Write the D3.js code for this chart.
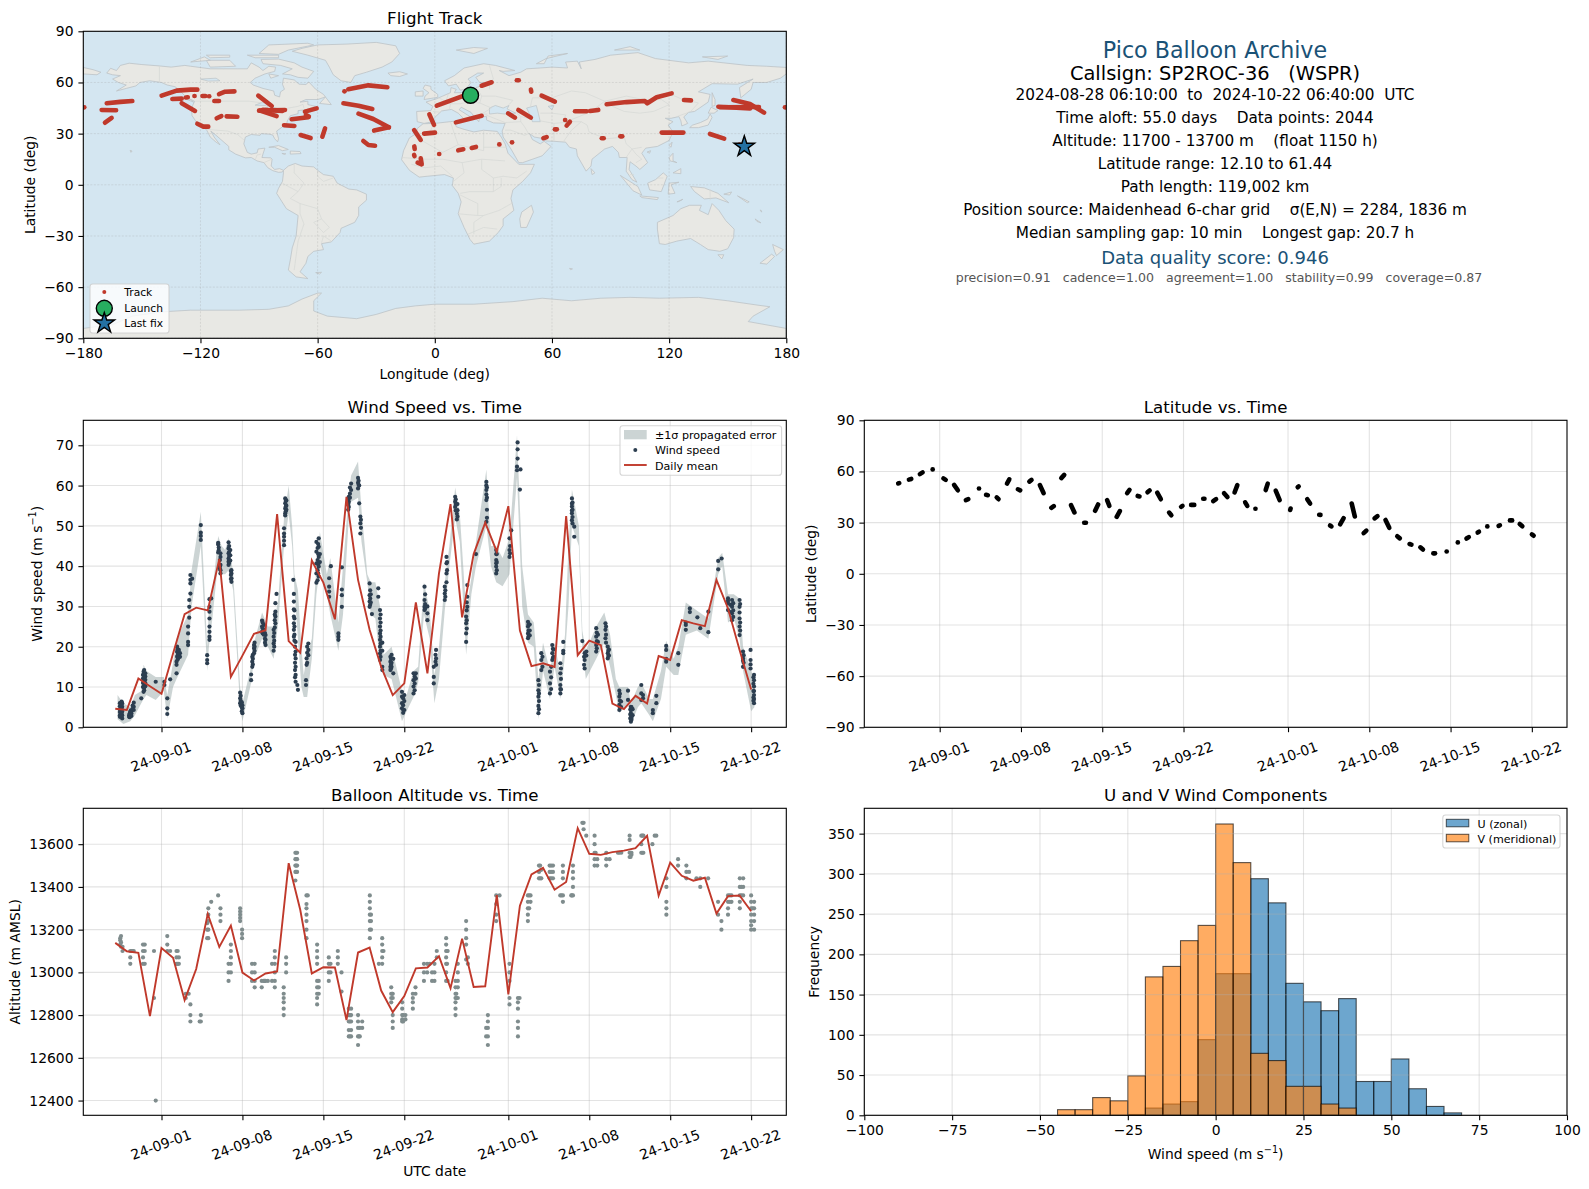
<!DOCTYPE html>
<html>
<head>
<meta charset="utf-8">
<script src="https://d3js.org/d3.v7.min.js"></script>
<style>
  html, body { margin: 0; padding: 0; background: #fff; }
  svg { display: block; font-family: "DejaVu Sans", sans-serif; }
  text { white-space: pre; }
</style>
</head>
<body>
<script>
// ---------- data ----------
// t = days since 2024-08-28 00:00 UTC

var lonTicks = [-180, -120, -60, 0, 60, 120, 180];
var latTicks = [-90, -60, -30, 0, 30, 60, 90];
var launchPos = [18.3, 52.5];
var lastFixPos = [158.5, 22.4];

// reported track, as runs of fixes [lon, lat]
var trackRuns = [
  [[-180,45.4],[-179.5,45.4]], [[179.3,45.4],[180,45.4]],
  [[-168,47.8],[-161,48.6],[-154.9,49.1]], [[-170.6,43.9],[-163.2,43.7]], [[-168.9,36.4],[-165.5,39.2]],
  [[-139.9,52.3],[-132.2,55.2],[-125,55.8],[-121.6,55.8]], [[-134.4,50.3],[-129.6,50.5]], [[-127.5,51.2],[-126.5,51.3]],
  [[-123.1,52.1],[-123,52.1]], [[-119,52.1],[-117.5,52.1]], [[-115.6,51.9],[-115.5,51.9]],
  [[-129.6,47.8],[-122.8,43.3]], [[-121.6,35.8],[-118.5,34.1],[-116,34.1]], [[-112.9,49.1],[-110.5,49.1]],
  [[-110.5,53.2],[-107.4,54.6],[-102.6,54.8]], [[-111.7,39],[-109.3,40.3]], [[-106.6,40.1],[-101.1,39.9]],
  [[-90.4,52.3],[-83.5,46.2]], [[-90,43.5],[-76.7,43.9]], [[-89.5,43.5],[-81,40.3]], [[-88,44],[-78,43.3]],
  [[-77.2,34.9],[-71.9,34.5]], [[-73.3,38.4],[-64.8,39.6]], [[-66.5,42.9],[-60.5,44.8]], [[-66,41],[-64.5,40]],
  [[-68.7,29.2],[-63.6,27.4]], [[-56.2,33.1],[-57.6,28.2]], [[-46.3,54.8],[-46.2,54.8]],
  [[-44.3,56],[-34,58.3],[-24.3,57.2]], [[-46.8,47.8],[-39.1,46.4],[-32,44.5]],
  [[-39.1,41.7],[-31.5,38.6],[-23.5,33.7]], [[-31.1,31.8],[-23.5,33.7]], [[-36.6,25.7],[-34,23.3],[-30.6,22.9]],
  [[-10.6,32.1],[-7.2,26.3]], [[-5.5,30],[0.1,30.6]], [[-2.8,41.3],[-0.4,35.1]], [[-10.5,22.5],[-10.3,21]],
  [[-10.6,17.5],[-10.4,16.8]], [[-7.2,15.5],[-6.7,12],[-8.8,13]], [[2.2,18.1],[2.3,18.1]],
  [[1,46.4],[14.6,52.1],[18.3,52.5]], [[24,58.1],[29.1,60.1]], [[42,61.3],[43,61.3]], [[49.2,55.8],[49.4,54.6]],
  [[54.7,52.3],[61.5,48.8]], [[10.8,36.6],[24,40.5]], [[37.6,41.9],[41,39.4]], [[42.8,43.9],[49.2,39.4]],
  [[12,20.2],[14.6,20.8]], [[18.9,21.6],[21.1,22.2]], [[33,23.7],[33.1,23.7]], [[39.5,24.9],[39.6,24.9]],
  [[55.6,27.3],[57.3,28]], [[61.5,32.5],[62.5,32.5]], [[66.7,38],[66.8,38]], [[67.5,34.7],[69.2,37]],
  [[71.8,43.1],[77.8,43.1]], [[79.5,43.3],[83.7,43.9]],
  [[88,47.2],[98.2,48.5],[107.6,49.1],[108.8,47.8],[113.6,51.3],[121.3,53.6]], [[127.6,49.7],[131.2,49.5]],
  [[85.5,27.3],[86.5,27.3]], [[95,28.4],[96,28.4]], [[116.2,30.6],[127.3,30.6]], [[140.9,29.8],[148.2,27.1]],
  [[145.2,45.8],[161.4,44.8]], [[152.9,49.7],[161.4,47.4],[168.6,42.3]], [[146,45.5],[166,45.6]], [[156,23.5],[158.5,22.4]]
];

// land, hand traced [lon, lat]
var landPolys = [
  [[-168,65.5],[-166,68.3],[-163,67],[-161,70],[-156.5,71.3],[-150,70.5],[-141,69.7],[-135,69],[-128,70],[-125,69.5],[-115,68],[-108,68],[-101,68],[-96,68],[-94,71.5],[-90,69],[-88,67],[-85,69.5],[-81.5,69],[-82,66.5],[-87,65],[-92,62.5],[-94.5,60],[-93,58.5],[-88,56.5],[-82.5,55],[-82,52.5],[-79.5,51.5],[-79,54.5],[-77,56],[-78,59],[-77.5,62.5],[-72,61.5],[-69.5,59],[-66,58.8],[-64.5,60.3],[-61,56],[-57,53],[-56,51.5],[-60,50],[-66,50],[-69,48.5],[-65,49],[-65,47],[-61,46],[-66,44],[-70,43.5],[-70,41.7],[-74,40.5],[-75.5,37.5],[-76,35],[-78,34],[-81,31.5],[-80,27],[-80.5,25.2],[-82,27],[-83,29.2],[-85,29.7],[-89,30],[-89.5,29],[-94,29.5],[-97,28],[-97.8,24],[-96,19],[-94,18],[-91,18.7],[-90.5,21],[-87,21.5],[-88,18],[-88.5,16],[-84,15.8],[-83.3,15],[-83.8,11],[-82,9],[-79.5,9.5],[-77.5,8.5],[-78,7.5],[-80,7.3],[-83,8.3],[-85.5,10],[-87.5,13],[-91,14],[-94,16],[-97,15.8],[-102,18],[-105.5,20.5],[-105.5,22.5],[-109,26],[-112.5,29.5],[-114.7,31.5],[-113,28],[-110,23.5],[-112,25],[-115,28],[-117,32.5],[-120.5,34.5],[-122.5,37.5],[-124.3,40.5],[-124.5,43],[-124,46.5],[-123,49],[-127,51],[-130,54.5],[-133,57.5],[-137,58.5],[-140,60],[-146,61],[-151,60],[-153,58],[-158,56.5],[-163,55],[-158,58.5],[-162,60],[-165,62],[-161,64],[-165,64.5]],
  [[-73,78.3],[-68,80],[-60,82],[-45,82.5],[-30,83.5],[-20,81.5],[-18,77],[-22,72],[-27,69],[-35,66],[-41,64],[-43,60],[-48,61],[-52,64.5],[-54,69],[-56,73],[-65,76]],
  [[-80,73.7],[-72,71.5],[-68,69],[-62,66.5],[-65,62.5],[-70,63],[-74,64.5],[-78,65],[-73,68],[-79,70],[-88,71],[-89,73.5]],
  [[-117,73],[-105,73],[-102,69.5],[-115,69]], [[-125,72],[-118,75],[-115,73]], [[-90,77],[-85,82],[-65,83],[-62,82],[-75,79],[-80,76.5]],
  [[-96,76],[-80,76],[-80,74.5],[-92,74.5]], [[-117,76],[-105,76],[-105,74.8],[-115,74.5]], [[-59,47.7],[-56,51.5],[-53,47]],
  [[-85,65],[-80,64],[-84,62.5]], [[-128,50.5],[-125,50],[-123.5,48.5]],
  [[-85,22],[-80,23],[-75,20.7],[-78,20],[-82,22]], [[-74,19.8],[-69,19.5],[-68.5,18.3],[-74,18]], [[-78.3,18.4],[-76.3,18.2],[-77,17.8]],
  [[-156,20.2],[-155,19.8],[-155.6,19]],
  [[-77.5,8.5],[-75,11],[-71.5,12.5],[-68,11],[-62,10.5],[-60,8.5],[-57,6],[-52,5],[-50,1],[-44,-2.5],[-40,-3],[-35,-5.5],[-35,-9],[-39,-13],[-39,-18],[-41,-22],[-48,-25.5],[-48.5,-28],[-53,-33.5],[-58,-34.5],[-57,-38],[-62,-39],[-65,-42],[-66,-46],[-69,-51],[-65,-55],[-71,-54],[-75,-50],[-74,-44],[-73,-37],[-71,-30],[-70,-18],[-76,-14],[-81,-5],[-80,-2],[-78,2],[-77.5,7]],
  [[-61,-51.5],[-58,-51.3],[-59,-52.3]],
  [[-6,35.8],[0,36],[10,37.3],[11,34],[15,32.5],[20,31],[25,32],[32,31.3],[34,28],[36,24],[37.5,18.5],[43,12],[51,12],[49,7],[45,2],[40,-3],[39,-8],[40.5,-15],[35,-20],[35,-24],[32.5,-28],[28,-33],[20,-34.8],[18,-32],[15,-25],[12,-17],[13.5,-10],[12,-5],[9,-0.5],[9.5,4],[5,6],[-4,5],[-8,4.5],[-13,8.5],[-17,14.7],[-16,20],[-13,27.5],[-9.5,30],[-9,33]],
  [[-5.5,36],[-9,37],[-9.3,43],[-2,43.5],[-1,46],[-4.5,48.5],[1,50.5],[4,52],[8,54],[8.3,57],[11,56],[10,54],[14,54],[19,54.5],[21,57],[24,58],[24,59.5],[30,60],[23,60],[21,63],[25,65.5],[22,65.5],[17,62],[18.5,60],[16,56],[13,55.5],[11,59],[7,58],[5,61],[10,64],[15,68.5],[25,71],[31,70],[41,67],[35,66.5],[33,67],[38,64],[44,66],[47,68],[54,68.5],[60,69],[68,68.5],[67,72],[73,72.5],[75,68],[74,72],[82,73.5],[90,76],[104,77.5],[113,74],[130,71.5],[140,72.5],[160,70],[170,69.5],[180,68.8],[180,65],[177,62.5],[170,60],[163,60],[162,56],[156.7,51],[156,57],[163,62],[155,59],[142,59.3],[135,54.5],[141,53],[140,48.5],[133,43],[130,42.5],[127.5,39.8],[129.5,36],[126.5,34.5],[126,37.5],[125,40],[121,39],[118,39],[122,37],[119.5,35],[122,31],[120,26],[114,22.5],[108,21.5],[106,18.5],[109,13],[105,9],[103,11],[100,13.5],[99.5,9],[103.5,1.5],[101,3],[98,8],[98.5,16],[94.5,16],[94,19],[91,22.5],[87,21],[80.5,15],[80,11],[77.5,8],[73,17],[72.5,21],[69,22],[67,25],[61,25.5],[57,25.7],[56,27],[51,28],[48.5,30],[50,26.5],[54,24],[56,25.5],[59.5,22.5],[55,17],[45,13],[43,13],[39,21],[35,28],[34.5,31.5],[36,36],[30,36.3],[26.5,38],[26.5,40],[23,40],[22.5,37],[19.5,41],[18.5,42.5],[13.5,45.5],[12.5,44],[18,40],[15.5,38],[12,42],[8.5,44.2],[3.5,43.3],[0,39.5],[-2,36.8]],
  [[-180,68.8],[-175,67.5],[-171,66],[-173,64.5],[-180,65]],
  [[-5.5,50],[1.5,51.3],[1.5,53],[-2,56],[-2,57.7],[-5,58.5],[-6,56.5],[-3,54],[-5,52]], [[-10,52],[-6,52],[-6,55],[-10,54.5]],
  [[-24,65.5],[-18,66.3],[-14,65],[-18,63.5],[-22.5,64]], [[11,79],[20,80.5],[27,80],[20,77]], [[52,71],[57,74],[68,77],[58,75.5],[56,71]],
  [[92,79],[105,79],[100,81]], [[137,75],[150,75.5],[145,73.5]], [[142,46],[142,54],[143.5,50],[143.5,46.5]],
  [[130.5,33.5],[135,33.5],[140,35],[142,39.5],[141,41.5],[139.7,38.5],[136,36.5],[132,35]], [[140,42],[141.5,45.5],[145,43.5],[143,42]],
  [[120,23],[121.5,25],[121,22]], [[108.7,19.2],[110.5,20],[110,18.5]], [[120,16],[122,18.5],[122,14],[124,13],[120.5,14]], [[122,7],[126,9.5],[126,6.5]],
  [[109,1],[113,3],[117,7],[119,5],[117.5,0.5],[116,-4],[110,-3]], [[95,5.5],[104,-1],[106,-6],[101.5,-3.5]], [[105,-6.5],[114.5,-7.5],[114,-8.7],[106,-7.5]],
  [[119.5,-5.5],[120,1],[125,1.5],[121,0],[123,-5]], [[131,-1],[138,-1.8],[145,-5],[150.5,-10.5],[144,-7.7],[138,-8.3],[133,-4]], [[124,-10],[127,-8.5],[125,-9.8]],
  [[148,-5.5],[152,-4.2],[151,-6]], [[155,-6.5],[161,-10],[160,-10.5]], [[166.5,-15],[167.5,-16],[167,-14.8]], [[164,-20],[167,-22.3],[165,-21.5]],
  [[114,-22],[122,-18],[126,-14],[130.5,-12],[136.5,-12],[135.5,-15],[140,-17.5],[142,-11],[145.5,-15],[149,-21],[153.3,-26],[153,-31],[150,-37.5],[146,-39],[140,-38],[136,-35],[131,-31.5],[124,-33],[118,-35],[115,-34.5],[114,-26]],
  [[145,-41],[148,-41],[147,-43.5]], [[173,-35],[178.5,-38],[175,-41.5],[174,-39]], [[172.5,-40.7],[174,-42],[170,-46.5],[166.5,-46]],
  [[49.5,-12],[50.5,-16],[47,-25],[44,-25],[43.5,-20],[44.5,-16]], [[80,9.5],[82,7],[80.5,6]], [[69,-49],[70.5,-49.3],[69.5,-49.8]],
  [[-180,-90],[-180,-84.2],[-165,-82],[-155,-77],[-140,-74.5],[-125,-73.5],[-100,-73.5],[-85,-73],[-75,-71],[-68,-67],[-60,-63.5],[-58,-63.5],[-62,-68],[-62,-74],[-55,-77],[-40,-78.5],[-30,-76],[-20,-72.5],[-10,-71],[0,-70],[20,-70],[40,-68.5],[55,-66.5],[70,-68],[85,-66.5],[100,-66],[115,-66.5],[135,-66],[150,-68],[165,-70.5],[171.6,-71.5],[163,-77],[160.5,-80.2],[180,-84.2],[180,-90]]
];
var waterPolys = [
  [[28,41.5],[28,45],[31,46.5],[35,45],[38,46.5],[37,44.5],[41.5,42],[36,41.5],[32,42]],
  [[47,45],[52,46.5],[53,42],[54,37],[50,37],[49,40.5]],
  [[-92,46.7],[-88,48.5],[-85,47],[-87,46.5]], [[-87.5,41.8],[-85.5,45.8],[-87,45]], [[-84,46],[-80,44.5],[-82,43],[-83.5,44]], [[-83,41.5],[-79,42.9],[-79,42.5]], [[-79.5,43.3],[-76.5,44],[-76.5,43.4]],
  [[58,46],[61,46.5],[60,44]], [[-120,62],[-112,62.5],[-110,61],[-116,60.8]]
];
var borderLines = [
  [[-141,69.7],[-141,60]], [[-123,49],[-95,49],[-88,48],[-83,46],[-82.5,42],[-79,43],[-75,45],[-70,46],[-67.5,47.2],[-67,45]],
  [[-117,32.5],[-106,31.5],[-101,29.5],[-97.5,26]], [[-92,14.5],[-91,17.5],[-89,18]], [[-87.5,13],[-83.5,15]],
  [[-72,12],[-72,7],[-67,1],[-70,-4],[-74,-8],[-69,-11],[-69,-17],[-67,-23],[-70,-33],[-72,-50]], [[-78,1],[-75,-1],[-70,-4]], [[-60,8],[-60,5],[-57,2],[-52,4]],
  [[-58,-20],[-62,-22],[-57,-28],[-54,-25],[-58,-20]], [[-58,-34],[-57,-30],[-53,-33]], [[-69,-11],[-60,-14],[-58,-20]],
  [[-9,27.5],[-2,32],[-1,35]], [[-9,27.5],[4,19],[12,23.5],[10,30],[8,37]], [[12,23.5],[25,20],[25,32]], [[25,22],[37,22]], [[24,15],[24,9],[30,4],[35,5],[42,4],[47,8]],
  [[-17,16],[-5,15],[4,15],[14,13],[24,15],[36,14]], [[-12,12],[-5,10],[3,11],[9,5]], [[14,13],[15,7],[9.5,2]], [[13,-5],[18,-4],[30,-4],[30,4]], [[12,-17],[22,-18],[25,-18],[33,-15],[40,-10.5]],
  [[22,-18],[22,-11],[13,-6]], [[20,-29],[20,-22],[25,-18]], [[17,-29],[25,-25],[32,-26]], [[30,-4],[34,-1],[34,4]], [[-1,43],[3,42.5]], [[2,51],[8,47.5],[7.5,44]], [[7,53.5],[6,50],[8,47.5],[13,47.5],[17,48.5],[23,48],[24,52],[23,54]],
  [[14,54],[15,51],[17,48.5]], [[23,48],[29,45],[24,41.5],[27,41.5]], [[24,52],[31,52],[40,49.5],[38,47]], [[28,56],[28,60]], [[28,70],[30,62],[28,60]], [[26,41],[36,36.5],[44,37],[44,40],[42,42]],
  [[36,32],[39,32],[46,29],[48,30]], [[44,37],[46,34],[48,30]], [[44,40],[48,39]], [[61,25.5],[61,31],[61,36],[54,37.5]], [[61,36],[71,37],[75,37],[70,32],[66,25.5]], [[75,37],[78,35],[79,31],[81,30],[88,27],[97,28],[98,24],[101,21],[106,22]],
  [[49,46],[50,51],[60,51],[70,55],[77,54],[87,49],[80,43],[74,40],[67,37]], [[87,49],[98,52],[107,50],[116,50],[120,47],[112,43],[105,42],[97,43],[91,46],[87,49]], [[120,53.5],[127,50],[135,48],[131,43]], [[54,42],[60,42],[67,41],[66,37.5]], [[98,16],[101,21]], [[101,21],[103,18],[106,15],[103,13]], [[124,40],[130,42.5]], [[100,6],[102,6]], [[141,-2.5],[141,-9]], [[114,4],[117,4]]
];

var windDaily = [4.6,4.3,12.1,10.2,8.3,18.3,28.1,29.7,29,41.8,12.5,17.8,23.2,24.1,52.9,21.4,18.5,41.4,35.9,26.8,57.2,36.6,24.2,15,8,10.9,31,13.4,
  38.2,55.4,27.3,43,50.8,43.6,54.9,24,15.2,15.9,15,52.4,17.9,21.5,20.4,5.9,4.5,7.8,5.9,17.7,16.7,26.6,25.8,25.1,36.6,29.5,19.2,9.4];
var altDaily = [13138,13099,13091,12795,13114,13068,12870,13016,13273,13119,13219,12999,12962,12995,13004,13511,13293,12995,13024,13023,12777,13093,13116,12915,12814,12889,13019,13023,
  13076,12926,13158,12932,12935,13362,12897,13312,13458,13489,13387,13423,13675,13555,13550,13563,13570,13581,13639,13359,13514,13452,13429,13443,13275,13357,13360,13286];

// wind speed readings grouped by time: [t, [values]]
var windCols = [
  [.4,[6,5.2,4.4,3.8,3,2.6]],[.5,[5.6,4.8,3.4]],[.6,[6,5.1,3.9,3,2.2]],[1.2,[3,2.6]],[1.3,[3,3.6,3.9]],[1.4,[2.8,3.4,4]],[1.6,[6.1,5.1,4.3]],[2.25,[7.2]],
  [2.4,[13,12.1,11,10]],[2.45,[13.8,13,12.1,11.3,10.1,8.8]],[2.6,[13.4,12.6,11.8,11,10.2]],[3.5,[11.3]],[4.25,[11.3,10.5]],[4.5,[7.2,4.7,3.3]],[4.75,[11.9]],
  [5.3,[13.4,15.5,16.3]],[5.35,[17.5,18.8,20]],[5.5,[18.4,19.2]],[5.6,[17.5,18.4]],[6.3,[20.4,21.2,23.3,25]],[6.4,[27.2,29.9,31.6]],[6.5,[33.2,35.7,36.6,37.8]],[6.65,[36.9]],
  [7.4,[50.2,48.3,47.5,46.5]],[7.95,[15.9,16.7,17.9]],[8.15,[21.7,22.5,23.7,25,27,28.7,29.9,31.8]],[8.3,[32]],
  [8.9,[45.8,45.4,43.4]],[9.1,[43.2,42.3,40.3,39,38.2]],[9.8,[45.9,44.4,43.2,41.9,41.1,40.3]],[9.95,[44,42.7,41.4]],[10.05,[39,38.2,37,36.1]],
  [10.8,[8.6,7.2,6]],[11,[4.7,3.5,5.5]],[11.75,[11.7,13.1]],[11.85,[15,16.3,17.5]],[12,[18.4,19.6,20.4]],[12.7,[26.5,25,23.7]],[12.85,[25.4,24.2,23]],[13,[22.9,21.7,20.4]],
  [13.7,[19,20.8,22.5,24.2]],[13.85,[25.8,27.5,28.7,30.8]],[13.95,[33.1]],[14.6,[45.2,47.3,49.4,48.1,46.3]],[14.7,[53.1,54.3,55.6,56.8,52.6]],[14.8,[54,55,56.3]],
  [15.4,[36.6]],[15.45,[33.1,31.2,29.3,27.5,25.8,24.2,22.5]],[15.6,[21.2,18.8,17.1,15,13,11.3]],[15.75,[10.5]],[15.8,[9.3]],[16.5,[11.7,10.5]],[16.55,[15.5,17.1]],[16.7,[20.8,19.2,17.9]],
  [17.4,[35.9,38.2,40.7,43.6,46]],[17.6,[46.9,44.8,42.3,39.9,37.4]],[17.7,[41,43]],[18.5,[32.4,33.7,34.9,37]],[18.65,[40]],[19.3,[23.3,21.7,22.5]],[19.6,[29.9,32.8,34.2,39.7]],
  [20.2,[54.7,56,57.2]],[20.4,[60.5,58.9]],[21,[61.9,60.7,59.3]],[21.1,[55.6,60]],[21.2,[52.3,50.6,48.1]],[22,[29.9,31.2,32.8,35.7]],[22.1,[33,31]],[22.2,[28.1]],
  [22.75,[34.5,32.4]],[22.9,[29.1,27,25,23.3,21.7,20,18.3,16.7]],[23.1,[15,14.2,19,21]],[23.8,[17.5,16.3,15,14.2]],[23.9,[18,16,15]],[24.05,[13.4,17]],
  [24.8,[8.8,7.6,6,4.7]],[25,[4.3,6.5,8]],[25.8,[13.4,11.7,10.1,8.4]],[26,[13.4,12.1]],[26.75,[34.9,31.6,29.9,29.1]],[27,[28.3,26.6,30]],
  [27.55,[15,12.5,10.9]],[27.75,[19.2,17.1,15.5]],[28.5,[31.6,33.2,34.9]],[28.65,[40.7,42.3,38.2,36]],[29.4,[57.2,56,54.7]],[29.6,[53.9,52.3,55.4]],
  [30.35,[21.2,23.3,25.8,27.5]],[30.45,[29.9,32.4,35.3]],[31.2,[43]],[32.1,[60.9,58.9,56.4,51,60,57.8]],[32.95,[38.2,39.9,41.5,44,40.7,43]],[34.1,[42.3,44,46.9]],[34.25,[48.9]],
  [34.75,[64.7,63.8]],[34.8,[70.7,69,66.7]],[35,[59]],[35.05,[64]],[35.7,[26.2,25,23.3,22.1]],[35.85,[25.5,24,22.8]],[36.6,[3.5,5.3,7.6,9.2,11.7]],[36.85,[14.2,16.7,18.4]],
  [37.6,[8.4,10.9,13.8]],[37.8,[16.7,18.4,20.4]],[37.9,[17.5,19.3]],[38.5,[8.4,10.5,13.4,15.9,9.5]],[38.75,[18.4,21.2,19]],[39.5,[56.8,54.8,53.1,51.4,55.5,53.8]],[39.7,[49.8,47.3]],
  [40.4,[21.4]],[40.6,[18.4,16.7,14.6]],[40.75,[17.8,18.8]],[41.6,[24.6,22.5,20.4,18.8]],[41.75,[23,21.2]],[42.4,[25.8,24.2,22.1]],[42.6,[20,18.4,17.1]],[42.7,[19.3,17.8]],
  [43.6,[9.1,7.6,5.6,4.3]],[43.75,[5,6.4]],[44.35,[9.1,6.8]],[44.6,[5.1,3.5,1.4,4.3,2.5]],[44.75,[4.5,3]],[45.5,[10.5,8.4,6.8]],[45.65,[8,7.2]],[46.5,[4.3,3.5]],[46.8,[7.8,6]],
  [47.65,[20.2,19.2,16.3,17]],[48.7,[18.4,15.5]],[49.35,[25.4,24.2,26]],[49.7,[29.5,28.6]],[50.35,[27.3]],[50.6,[24.6]],[51.3,[28.7,23.6]],
  [52.15,[39.2,41.3]],[52.45,[41.9]],[53,[32,30.8,29.1,31.4]],[53.35,[31.6,29.9,28.3,26.6,30.5]],[54,[31.6,29.9,27,25,22.9,28.5]],[54.3,[18.8,17.1,15,16.5]],[54.95,[19.2,16.7,14.6,15.6]],[55.25,[13,11.7,10.1,8,6,9,7]],
  // denser parts of the clusters
  [.55,[6.4,5.6,4.6,3.6,2.8]],[1.25,[3.4,3,2.5]],[1.35,[4.2,3.6,3.2]],[1.5,[4.6,5.4]],[2.5,[14.2,13.2,12.4,11.6,10.8,9.8,9.2]],[5.4,[16.8,17.8,18.6,19.4]],[5.45,[17.2,18.2,19]],[8.95,[44.6,43.9]],[9.05,[41.5,40,39.4]],
  [9.85,[45,43.5,42.5,40.8]],[10,[38.8,37.8,36.8]],[10.85,[7.8,6.6,5.4]],[10.95,[6.2,5,4]],[11.9,[15.6,17,18]],[12.05,[19,20,21]],[12.75,[26,24.6,23.3]],[12.95,[23.4,22,21]],[13.75,[20,21.5,23.4]],[13.8,[24.8,26.6,28]],
  [14.75,[53.6,54.8,56.2]],[15.5,[29,27,25,23,21.5]],[15.55,[20,18,16,14.2,12.4]],[16.6,[16,18.5,20]],[17.5,[36.5,39,41.5,44.5]],[17.55,[45.5,43,40.5,38.2]],[20.15,[54,55.5,56.6]],[20.3,[57,58,59.5]],[21.05,[60.2,61.2]],[21.25,[51.5,49.5]],
  [22.05,[30.4,32,34]],[22.95,[28,26,24,22.5,20.8,19,17.5]],[23.85,[17,15.6,14.6]],[24.9,[7.2,5.5,4.4,3.6]],[25.9,[12.6,10.9,9.2]],[26.8,[33,30.6,29.4]],[27.7,[18,16.3]],[28.55,[32.4,34]],[28.7,[39,41]],[29.45,[56.6,55.4,53.8]],[29.55,[53,51.6]],
  [30.4,[24.5,26.6,29,31]],[32.15,[59.5,57,54,52]],[33,[39,41,43]],[34.15,[43.2,45]],[35.75,[25.6,24,22.6]],[36.65,[4.5,6.5,8.4,10.5]],[36.95,[15,17.5]],[37.7,[9.5,12.4,15]],[37.85,[17.2,19.5]],[38.55,[9.4,12,14.6]],[39.55,[55.8,54,52.2,50.6]],
  [40.55,[17.5,15.5]],[41.65,[23.5,21.4,19.6]],[42.45,[25,23,21]],[42.65,[19,17.7]],[43.65,[8.3,6.6,5]],[44.55,[4.4,2.2,3.2]],[44.65,[5,2.4,1.9]],[53.2,[30.4,28.6]],[53.45,[30.8,29,27.4]],[54.05,[30.6,26,24]],[54.35,[17.9,16]],[55.2,[12.4,10.8,9,7.4,6.6]]
];

// ±1 sigma band along the series: t, low, high
var bandT = [.2,.7,1.3,1.7,2.25,2.45,2.7,3.5,4.2,4.5,5,5.3,6.3,6.6,7.4,7.95,8.1,8.4,8.9,9.2,9.5,9.8,10.2,10.8,11,11.75,12,12.7,13.2,13.7,14.1,14.6,15,15.3,15.5,15.8,16.1,16.3,16.6,17,17.4,17.7,18.3,18.6,19.3,19.7,20.2,20.4,21,21.3,21.8,22.1,22.5,22.9,23.2,23.9,24.8,25.2,25.8,26.2,26.7,27.2,27.6,28,28.5,28.9,29.4,29.8,30.35,30.8,31.2,32.1,32.5,32.95,33.5,34.1,34.75,35.2,35.7,36.2,36.6,37,37.6,38,38.5,38.9,39.2,39.5,40.1,40.4,40.7,41.6,42.3,42.8,43.3,43.6,44.35,44.6,45.2,45.5,46.2,46.5,47.2,47.65,48.3,48.7,49.35,50.3,51.3,52.15,52.5,53,53.5,54,54.3,55,55.28];
var bandLow = [2,.8,1.5,3,6,7,8,6.8,9,2.2,10,12,18,30,45,14,20,27,41,38,38,39,34,5,1.5,11,17,22,20,17,26,45,53,45,34,22,10,7.5,7.5,17,33,40,33,28,19,28,52,56,57,46,36,28,27,16,13,12,1.5,4,7.5,11,28,22,6,12,29,40,52,46,18,33,40,50,40,36,35,38,62,30,21,20,2,14,7,15,7,18,30,50,45,20,12,17,21,15,8,3.5,6,.7,5,6,3,1.5,7,15,13,13,23,24,22,38,40,26,27,22,14,4,5];
var bandHigh = [8,6,5,8,9,15.5,14,12.5,12.5,8,16,22,28,39,53.5,20,30,33,47.5,45,44,47,38,10,6,15,21,28.5,25,25,32,52,60,50,38,34,20,13,18,22,40,48.5,38,42,26,40,58,62.5,66,54,38,36,36,30,18,20,9,8,14,15,36,29,13,20,36,45,59.5,53,29,37,46,64,45,45,42,47,72.5,40,28,26,12,21,14,21,13,23,45,59,50,24,19,25,28.5,23,12,10,10,6,10,11,7,7,14,21.5,17,20,31,29,27,42,43.3,33,33,32,20,14,12];

// latitude vs time: runs of [t, lat]
var latRuns = [
  [[.28,52.6],[.66,53.6]],[[1.2,54.9],[1.7,55.9]],[[2.16,57.9],[2.66,60]],[[3.39,61.2],[3.4,61.2]],[[4.19,56.5],[4.65,54.5]],[[5.15,53],[5.65,48.1]],[[6.11,42.8],[6.61,44.2]],
  [[7.38,50],[7.39,50]],[[7.84,46.5],[8.3,45.9]],[[8.8,45.5],[9.18,43]],[[9.72,52],[10.07,56.3]],[[10.6,50],[11.07,48.5]],[[11.6,53.4],[12.03,55.7]],[[12.56,53],[13.02,46.3]],
  [[13.49,38.1],[13.95,40.3]],[[14.37,55.3],[14.83,58.8]],[[15.25,41.2],[15.67,35]],[[16.29,29.9],[16.75,29.9]],[[17.32,36],[17.71,41.6]],[[18.36,44.2],[18.67,38.9]],
  [[19.17,32.5],[19.59,37.7]],[[20.05,46.5],[20.44,50]],[[20.9,45.9],[21.36,45.1]],[[21.78,47.1],[22.2,49.6]],[[22.66,48.5],[23.12,42.8]],[[23.66,36.7],[24.05,33.5]],
  [[24.66,38.7],[25.04,40.4]],[[25.5,40.4],[26.08,40.4]],[[26.54,44],[26.96,44]],[[27.43,42],[27.93,44.4]],[[28.39,48.1],[28.88,44.2]],[[29.34,46.7],[29.69,53]],
  [[30.23,42.8],[30.57,38.9]],[[31.19,38.1],[31.2,38.1]],[[32.03,48.1],[32.3,53.9]],[[32.88,49.8],[33.34,42.2]],[[34.15,36.4],[34.26,39.3]],[[34.72,50],[35.03,52]],
  [[35.57,44.6],[35.99,40.3]],[[36.53,34.8],[36.95,34.4]],[[37.49,28.9],[37.87,27.2]],[[38.41,28.1],[38.87,33.5]],[[39.45,42.2],[39.79,32.6]],[[40.4,23.1],[40.86,26]],
  [[41.33,31.9],[41.83,34.4]],[[42.33,32.5],[42.79,26]],[[43.29,22.7],[43.75,20.1]],[[44.32,17.8],[44.78,16.8]],[[45.28,16.2],[45.74,13.5]],[[46.36,12],[46.82,12]],
  [[47.66,13.1],[47.67,13.1]],[[48.62,18.4],[48.63,18.4]],[[49.24,20.1],[49.7,22.1]],[[50.2,23.7],[50.58,25.2]],[[51.16,27.8],[51.17,27.8]],[[52,27.6],[52.39,28.9]],
  [[52.96,31.3],[53.46,31.3]],[[53.84,29.9],[54.3,27.2]],[[54.88,23.7],[55.28,21.7]]
];

// altitude readings grouped by time: [t, [metres]]
var altCols = [
  [.43,[13160,13150,13130]],[.5,[13170,13140,13120]],[.63,[13120,13100]],[1.3,[13100,13070,13040]],[1.4,[13100]],[1.6,[13100]],[2.4,[13130,13100,13070,13040]],[2.55,[13130,13100,13040]],
  [3.35,[13100,12880]],[3.5,[12400]],[4.5,[13170,13130,13100]],[4.75,[13100]],[5.3,[13100,13070,13040]],[5.5,[13070,13040]],[6.1,[12900,12880]],[6.35,[12900]],[6.5,[12850,12800,12770]],
  [7.3,[12770]],[7.4,[12800,12770]],[7.95,[13200,13160,13230]],[8.05,[13300,13270,13240,13200,13160]],[8.3,[13330]],[8.9,[13360]],[9.1,[13300,13270,13240]],[9.8,[12960,13000,13040]],[10,[13070,13100,13130,13040,13000]],
  [10.8,[13300,13285,13270,13255,13240]],[10.97,[13200,13180,13160]],[11.83,[13040,13000,12960]],[12.06,[13040,13000,12960,12930]],[12.67,[12930,12960]],[12.85,[12960]],[13,[12960]],[13.56,[13040,12960]],
  [13.8,[13100,13070,13040,13000,12960,12930]],[14.57,[12930,12900,12880,12860,12830,12800]],[14.78,[13070,13040,13000]],[15.58,[13560,13530,13500,13470,13430]],[15.73,[13560,13530,13500,13470]],
  [16.54,[13360,13320,13300,13270,13240,13200,13160]],[16.65,[13360]],[17.46,[13130,13100,13070,13040,12960,12930,12900,12880,12850]],[17.6,[12960,12930,12900]],[18.47,[13070,13040,13000,12960]],[18.62,[13040,13000]],
  [19.25,[13100,13070,13040]],[19.57,[13000,12910]],[20.2,[12830,12800,12770,12730,12700]],[20.4,[12830,12800,12770,12730,12700]],[21,[12800,12770,12740,12700,12660]],[21.15,[12740,12700]],[21.36,[12770,12740]],
  [22.02,[13360,13330,13300,13270,13240,13200,13160]],[22.12,[13270,13240,13200]],[22.8,[13040]],[23.09,[13160,13130,13100,13070,13040]],[23.2,[13100]],[23.87,[12930,12900,12880,12860]],[24,[12800,12770,12740,12900,12880]],
  [24.82,[12800,12780,12770,12830,12860]],[25.1,[12800,12780]],[25.74,[12900,12880,12860,12830]],[25.97,[12930,12900]],[26.7,[12960,13040,13000]],[26.98,[13040,13000]],[27.2,[13040]],
  [27.4,[12960,13000]],[27.61,[13040,13000,12960]],[27.81,[13100,13070]],[28.62,[13160,13130,13100,13070,13040,13000,12960]],[28.75,[13100,12960]],[29.43,[12960,12930,12900,12880,12860,12830,12800]],
  [29.63,[13040,13000,12960,12930,12880]],[30.35,[13240,13200,13160,13130,13060]],[30.5,[13070,13040]],[32.08,[12740,12700]],[32.23,[12800,12770,12740,12700,12660]],[32.95,[13360,13320,13270,13240]],[33.24,[13360]],
  [34.1,[13040,13000,12960,12880,12850]],[34.83,[12880,12860,12830,12770,12740,12700]],[34.97,[12880]],[35.69,[13360,13330,13300,13270,13240]],[35.92,[13360,13330]],[36.65,[13500,13470,13440]],[36.85,[13480,13440]],
  [37.57,[13500,13470,13440]],[37.86,[13500,13470,13440]],[38.49,[13360]],[38.72,[13500,13470,13440,13360,13330]],[39.44,[13360]],[39.59,[13500,13470,13440,13400,13360]],[40.4,[13700]],[40.51,[13700,13670]],[40.74,[13640]],
  [41.46,[13640,13600,13560,13530,13500]],[41.69,[13500,13530]],[42.47,[13560,13530,13500]],[42.76,[13530]],[43.48,[13560]],[43.77,[13560]],[44.49,[13640,13620,13560,13540]],[44.65,[13550,13560]],
  [45.5,[13640,13600,13560]],[45.68,[13640,13560]],[46.46,[13600]],[46.66,[13640]],[46.8,[13640]],[47.67,[13440,13400,13330,13300,13270]],[48.68,[13530,13500]],[49.4,[13500,13470,13440]],[49.63,[13470]],
  [50.27,[13440]],[50.6,[13400,13440]],[51.28,[13440]],[52.14,[13330,13270]],[52.43,[13240,13200]],[53,[13360,13330,13300,13270]],[53.3,[13360,13330]],[54.02,[13440,13400,13360,13330,13300]],[54.31,[13440,13400,13360]],
  [55,[13360,13330,13300,13270,13240,13220,13200]],[55.26,[13330,13300,13270,13240,13200]],
  // wider blobs
  [15.65,[13560,13530,13500,13470]],[5.4,[13100,13040]],[1.5,[13100]],[20.3,[12800,12770,12700]],[21.08,[12700]],[36.75,[13500,13440]],[37.7,[13500,13470,13440]],[38.6,[13360]],[39.5,[13360]],[43.6,[13560]],[44.57,[13560,13540]],
  [45.6,[13640,13560]],[24.9,[12800,12770]],[23.95,[12900]],[28.7,[13100,13040]],[29.5,[12900,12880]],[35.8,[13300,13360]],[12.9,[12960]],[13.2,[12960]],[41.55,[13560]],[53.15,[13360,13330]],[54.15,[13400,13360]],[55.13,[13300]]
];

var dateTicks = ["2024-09-01","2024-09-08","2024-09-15","2024-09-22","2024-10-01","2024-10-08","2024-10-15","2024-10-22"];
var windTicks = [0,10,20,30,40,50,60,70];
var latAxisTicks = [-90,-60,-30,0,30,60,90];
var altTicks = [12400,12600,12800,13000,13200,13400,13600];

var histLeft = [-45,-40,-35,-30,-25,-20,-15,-10,-5,0,5,10,15,20,25,30,35,40,45,50,55,60,65];
var histU = [0,0,0,0,1,9,14,17,94,176,176,294,264,164,141,130,145,42,42,70,33,11,3];
var histV = [7,7,22,18,49,172,185,217,236,362,314,77,68,36,36,14,9,0,0,0,0,0,0];
var histXTicks = [-100,-75,-50,-25,0,25,50,75,100];
var histYTicks = [0,50,100,150,200,250,300,350];

var infoLines = [
  {text: "Pico Balloon Archive", x: 1215, y: 50.7, size: 22.2, fill: "#1a5276"},
  {text: "Callsign: SP2ROC-36   (WSPR)", x: 1215, y: 73, size: 19.44, fill: "#000"},
  {text: "2024-08-28 06:10:00  to  2024-10-22 06:40:00  UTC", x: 1215, y: 94.2, size: 15.28, fill: "#000"},
  {text: "Time aloft: 55.0 days    Data points: 2044", x: 1215, y: 117.6, size: 15.28, fill: "#000"},
  {text: "Altitude: 11700 - 13700 m    (float 1150 h)", x: 1215, y: 140.9, size: 15.28, fill: "#000"},
  {text: "Latitude range: 12.10 to 61.44", x: 1215, y: 163.2, size: 15.28, fill: "#000"},
  {text: "Path length: 119,002 km", x: 1215, y: 186.5, size: 15.28, fill: "#000"},
  {text: "Position source: Maidenhead 6-char grid    σ(E,N) = 2284, 1836 m", x: 1215, y: 209.8, size: 15.28, fill: "#000"},
  {text: "Median sampling gap: 10 min    Longest gap: 20.7 h", x: 1215, y: 233, size: 15.28, fill: "#000"},
  {text: "Data quality score: 0.946", x: 1215, y: 257.4, size: 18, fill: "#1a5276"},
  {text: "precision=0.91   cadence=1.00   agreement=1.00   stability=0.99   coverage=0.87", x: 1219, y: 277.7, size: 12.55, fill: "#555"}
];

// ---------- layout ----------
var W = 1589, H = 1189;
var leftCol = [83.3, 786.3], rightCol = [864.3, 1567];
var row1 = [31.3, 338.3], row2 = [420.3, 727.3], row3 = [808.3, 1115.3];
var RED = "#c0392b", NAVY = "#2c3e50", GREY = "#7f8c8d", BAND = "#95a5a6";
var GREEN = "#27ae60", STAR = "#2471a3", BLUE = "#1f77b4", ORANGE = "#ff7f0e";

var svg = d3.select("body").append("svg").attr("width", W).attr("height", H);
svg.append("rect").attr("width", W).attr("height", H).attr("fill", "#fff");

var tDate = function(t) { return new Date(Date.UTC(2024, 7, 28) + t * 864e5); };
var minusFmt = function(d) { return String(d).replace("-", "\u2212"); };

function gridLines(g, x, y, xt, yt) {
  g.append("g").selectAll("line").data(xt).enter().append("line")
    .attr("x1", function(d) { return x(d); }).attr("x2", function(d) { return x(d); })
    .attr("y1", y.range()[0]).attr("y2", y.range()[1])
    .attr("stroke", "#b0b0b0").attr("stroke-opacity", 0.35).attr("stroke-width", 1.1);
  g.append("g").selectAll("line").data(yt).enter().append("line")
    .attr("y1", function(d) { return y(d); }).attr("y2", function(d) { return y(d); })
    .attr("x1", x.range()[0]).attr("x2", x.range()[1])
    .attr("stroke", "#b0b0b0").attr("stroke-opacity", 0.35).attr("stroke-width", 1.1);
}

function frame(x, y, title) {
  svg.append("rect")
    .attr("x", x.range()[0]).attr("y", y.range()[1])
    .attr("width", x.range()[1] - x.range()[0]).attr("height", y.range()[0] - y.range()[1])
    .attr("fill", "none").attr("stroke", "#000").attr("stroke-width", 1.1);
  svg.append("text").attr("x", (x.range()[0] + x.range()[1]) / 2).attr("y", y.range()[1] - 7.8)
    .attr("text-anchor", "middle").attr("font-size", 16.67).text(title);
}

function axes(x, y, xt, yt, xFmt, yFmt, rotate) {
  var ax = svg.append("g").attr("transform", "translate(0," + y.range()[0] + ")")
    .call(d3.axisBottom(x).tickValues(xt).tickFormat(xFmt).tickSize(4.9).tickSizeOuter(0).tickPadding(4.9));
  var ay = svg.append("g").attr("transform", "translate(" + x.range()[0] + ",0)")
    .call(d3.axisLeft(y).tickValues(yt).tickFormat(yFmt).tickSize(4.9).tickSizeOuter(0).tickPadding(4.9));
  [ax, ay].forEach(function(a) {
    a.select(".domain").remove();
    a.selectAll("line").attr("stroke", "#000").attr("stroke-width", 1.1);
    a.selectAll("text").attr("font-size", 13.89).attr("font-family", "DejaVu Sans").attr("fill", "#000");
  });
  if (rotate) {
    ax.selectAll("text").attr("y", 0).attr("dy", "0.35em")
      .attr("transform", "translate(-1,29.4) rotate(-20)").attr("text-anchor", "middle");
  }
}

function yLabel(cx, cy, s) {
  return svg.append("text").attr("transform", "translate(" + cx + "," + cy + ") rotate(-90)")
    .attr("text-anchor", "middle").attr("dy", "0.35em").attr("font-size", 13.89).text(s);
}
function xLabel(cx, cy, s) {
  return svg.append("text").attr("x", cx).attr("y", cy)
    .attr("text-anchor", "middle").attr("dy", "0.35em").attr("font-size", 13.89).text(s);
}
function addSup(label, pre, sup, post) {
  label.text(pre);
  label.append("tspan").attr("font-size", 9.7).attr("dy", "-0.6em").text(sup);
  label.append("tspan").attr("dy", "0.42em").text(post);
}
function legendBox(x, y, w, h) {
  svg.append("rect").attr("x", x).attr("y", y).attr("width", w).attr("height", h).attr("rx", 2.8)
    .attr("fill", "#fff").attr("fill-opacity", 0.8).attr("stroke", "#ccc").attr("stroke-opacity", 0.8).attr("stroke-width", 1.1);
}
function legendText(x, y, s, size) {
  svg.append("text").attr("x", x).attr("y", y).attr("dy", "0.35em").attr("font-size", size || 11.1).text(s);
}

// ---------- flight track ----------
var xLon = d3.scaleLinear().domain([-180, 180]).range(leftCol);
var yLat = d3.scaleLinear().domain([-90, 90]).range([row1[1], row1[0]]);
var geoLine = d3.line().x(function(d) { return xLon(d[0]); }).y(function(d) { return yLat(d[1]); });

svg.append("clipPath").attr("id", "mapClip").append("rect")
  .attr("x", leftCol[0]).attr("y", row1[0]).attr("width", leftCol[1] - leftCol[0]).attr("height", row1[1] - row1[0]);
var map = svg.append("g").attr("clip-path", "url(#mapClip)");
map.append("rect").attr("x", leftCol[0]).attr("y", row1[0]).attr("width", leftCol[1] - leftCol[0]).attr("height", row1[1] - row1[0]).attr("fill", "#d4e6f1");
map.append("g").selectAll("path").data(landPolys).enter().append("path")
  .attr("d", function(d) { return geoLine(d) + "Z"; })
  .attr("fill", "#e8e8e4").attr("stroke", "#bcc3c6").attr("stroke-width", 0.8).attr("stroke-linejoin", "round");
map.append("g").selectAll("path").data(waterPolys).enter().append("path")
  .attr("d", function(d) { return geoLine(d) + "Z"; })
  .attr("fill", "#d4e6f1").attr("stroke", "#bcc3c6").attr("stroke-width", 0.7);
map.append("g").selectAll("path").data(borderLines).enter().append("path")
  .attr("d", geoLine).attr("fill", "none").attr("stroke", "#d6d8d6").attr("stroke-width", 0.7);
map.append("g").selectAll("line.gx").data(lonTicks).enter().append("line")
  .attr("x1", function(d) { return xLon(d); }).attr("x2", function(d) { return xLon(d); })
  .attr("y1", row1[0]).attr("y2", row1[1]).attr("stroke", "#999").attr("stroke-opacity", 0.35).attr("stroke-width", 0.7).attr("stroke-dasharray", "2,1.5");
map.append("g").selectAll("line.gy").data(latTicks).enter().append("line")
  .attr("y1", function(d) { return yLat(d); }).attr("y2", function(d) { return yLat(d); })
  .attr("x1", leftCol[0]).attr("x2", leftCol[1]).attr("stroke", "#999").attr("stroke-opacity", 0.35).attr("stroke-width", 0.7).attr("stroke-dasharray", "2,1.5");
map.append("g").selectAll("path").data(trackRuns).enter().append("path")
  .attr("d", geoLine).attr("fill", "none").attr("stroke", RED).attr("stroke-width", 4.6).attr("stroke-linecap", "round").attr("stroke-linejoin", "round");
map.append("circle").attr("cx", xLon(launchPos[0])).attr("cy", yLat(launchPos[1])).attr("r", 8)
  .attr("fill", GREEN).attr("stroke", "#000").attr("stroke-width", 1.4);
map.append("path").attr("transform", "translate(" + xLon(lastFixPos[0]) + "," + yLat(lastFixPos[1]) + ")")
  .attr("d", d3.symbol().type(d3.symbolStar).size(130)).attr("fill", STAR).attr("stroke", "#000").attr("stroke-width", 1.4);

frame(xLon, yLat, "Flight Track");
axes(xLon, yLat, lonTicks, latTicks, minusFmt, minusFmt, false);
yLabel(30.4, 184.8, "Latitude (deg)");
xLabel(434.8, 374, "Longitude (deg)");

legendBox(90, 284, 79, 49);
svg.append("circle").attr("cx", 104.3).attr("cy", 292).attr("r", 2).attr("fill", RED);
svg.append("circle").attr("cx", 104.3).attr("cy", 308.3).attr("r", 8).attr("fill", GREEN).attr("stroke", "#000").attr("stroke-width", 1.4);
svg.append("path").attr("transform", "translate(104.3,323.3)").attr("d", d3.symbol().type(d3.symbolStar).size(130)).attr("fill", STAR).attr("stroke", "#000").attr("stroke-width", 1.4);
legendText(124.3, 292, "Track", 10.7);
legendText(124.3, 308.3, "Launch", 10.7);
legendText(124.3, 323.3, "Last fix", 10.7);

// ---------- info panel ----------
svg.append("g").selectAll("text").data(infoLines).enter().append("text")
  .attr("x", function(d) { return d.x; }).attr("y", function(d) { return d.y; }).attr("dy", "0.35em").attr("text-anchor", "middle")
  .attr("font-size", function(d) { return d.size; }).attr("fill", function(d) { return d.fill; })
  .text(function(d) { return d.text; });

// ---------- wind speed ----------
var dailyDom = [new Date(Date.UTC(2024, 7, 25, 5, 40)), new Date(Date.UTC(2024, 9, 25, 1, 0))];
var xWind = d3.scaleUtc().domain(dailyDom).range(leftCol);
var yWind = d3.scaleLinear().domain([0, 76.2]).range([row2[1], row2[0]]);
var tickDates = dateTicks.map(function(s) { return new Date(s + "T00:00:00Z"); });
var dateFmt = d3.utcFormat("%y-%m-%d");

gridLines(svg.append("g"), xWind, yWind, tickDates, windTicks);
var band = d3.area().x(function(i) { return xWind(tDate(bandT[i])); })
  .y0(function(i) { return yWind(bandLow[i]); }).y1(function(i) { return yWind(bandHigh[i]); });
svg.append("path").datum(d3.range(bandT.length)).attr("d", band).attr("fill", BAND).attr("fill-opacity", 0.48);

var windPts = [];
windCols.forEach(function(c) { c[1].forEach(function(v) { windPts.push([c[0], v]); }); });
svg.append("g").selectAll("circle").data(windPts).enter().append("circle")
  .attr("cx", function(d) { return xWind(tDate(d[0])); }).attr("cy", function(d) { return yWind(d[1]); })
  .attr("r", 2.1).attr("fill", NAVY);

var windLine = d3.line().x(function(d, i) { return xWind(tDate(i)); }).y(function(d) { return yWind(d); });
svg.append("path").datum(windDaily).attr("d", windLine).attr("fill", "none").attr("stroke", RED).attr("stroke-width", 1.9);

frame(xWind, yWind, "Wind Speed vs. Time");
axes(xWind, yWind, tickDates, windTicks, dateFmt, minusFmt, true);
addSup(yLabel(37, 573.8, ""), "Wind speed (m s", "\u22121", ")");

legendBox(620, 425.7, 161.6, 49.6);
svg.append("rect").attr("x", 624).attr("y", 430).attr("width", 22.7).attr("height", 9.3).attr("fill", BAND).attr("fill-opacity", 0.48);
svg.append("circle").attr("cx", 635.3).attr("cy", 450).attr("r", 2).attr("fill", NAVY);
svg.append("line").attr("x1", 624).attr("x2", 646.7).attr("y1", 465).attr("y2", 465).attr("stroke", RED).attr("stroke-width", 1.9);
legendText(655, 435, "±1σ propagated error");
legendText(655, 450, "Wind speed");
legendText(655, 465.7, "Daily mean");

// ---------- latitude vs time ----------
var xLatT = d3.scaleUtc().domain([new Date(Date.UTC(2024, 7, 25, 12, 9)), new Date(Date.UTC(2024, 9, 25, 0, 41))]).range(rightCol);
var yLatT = d3.scaleLinear().domain([-90, 90]).range([row2[1], row2[0]]);
gridLines(svg.append("g"), xLatT, yLatT, tickDates, latAxisTicks);
// the read endpoints are the outer ends of each blob, so pull them in by the cap radius
function latPath(run) {
  var a = [xLatT(tDate(run[0][0])), yLatT(run[0][1])], b = [xLatT(tDate(run[1][0])), yLatT(run[1][1])];
  var dx = b[0] - a[0], dy = b[1] - a[1], len = Math.sqrt(dx * dx + dy * dy) || 1;
  var k = Math.min(1.8, len / 2 - 0.05) / len;
  return d3.line()([[a[0] + dx * k, a[1] + dy * k], [b[0] - dx * k, b[1] - dy * k]]);
}
svg.append("g").selectAll("path").data(latRuns).enter().append("path")
  .attr("d", latPath).attr("fill", "none").attr("stroke", "#000").attr("stroke-width", 4.6).attr("stroke-linecap", "round");
frame(xLatT, yLatT, "Latitude vs. Time");
axes(xLatT, yLatT, tickDates, latAxisTicks, dateFmt, minusFmt, true);
yLabel(811, 573.8, "Latitude (deg)");

// ---------- altitude ----------
var xAlt = d3.scaleUtc().domain(dailyDom).range(leftCol);
var yAlt = d3.scaleLinear().domain([12331, 13768]).range([row3[1], row3[0]]);
gridLines(svg.append("g"), xAlt, yAlt, tickDates, altTicks);
var altPts = [];
altCols.forEach(function(c) { c[1].forEach(function(v) { altPts.push([c[0], v]); }); });
svg.append("g").selectAll("circle").data(altPts).enter().append("circle")
  .attr("cx", function(d) { return xAlt(tDate(d[0])); }).attr("cy", function(d) { return yAlt(d[1]); })
  .attr("r", 2.1).attr("fill", GREY);
var altLine = d3.line().x(function(d, i) { return xAlt(tDate(i)); }).y(function(d) { return yAlt(d); });
svg.append("path").datum(altDaily).attr("d", altLine).attr("fill", "none").attr("stroke", RED).attr("stroke-width", 1.9);
frame(xAlt, yAlt, "Balloon Altitude vs. Time");
axes(xAlt, yAlt, tickDates, altTicks, dateFmt, minusFmt, true);
yLabel(15.2, 961.8, "Altitude (m AMSL)");
xLabel(434.8, 1171, "UTC date");

// ---------- histogram ----------
var xHist = d3.scaleLinear().domain([-100, 100]).range(rightCol);
var yHist = d3.scaleLinear().domain([0, 381.5]).range([row3[1], row3[0]]);
function hist(vals, color) {
  var bins = histLeft.map(function(left, i) { return {left: left, count: vals[i]}; })
    .filter(function(b) { return b.count > 0; });
  svg.append("g").selectAll("rect").data(bins).enter().append("rect")
    .attr("x", function(b) { return xHist(b.left); })
    .attr("width", xHist(5) - xHist(0))
    .attr("y", function(b) { return yHist(b.count); })
    .attr("height", function(b) { return yHist(0) - yHist(b.count); })
    .attr("fill", color).attr("fill-opacity", 0.65)
    .attr("stroke", "#000").attr("stroke-opacity", 0.65).attr("stroke-width", 1.1);
}
hist(histU, BLUE);
hist(histV, ORANGE);
gridLines(svg.append("g"), xHist, yHist, histXTicks, histYTicks);
frame(xHist, yHist, "U and V Wind Components");
axes(xHist, yHist, histXTicks, histYTicks, minusFmt, minusFmt, false);
yLabel(814, 961.8, "Frequency");
addSup(xLabel(1215.6, 1154, ""), "Wind speed (m s", "\u22121", ")");

legendBox(1442.8, 815, 117.2, 33);
svg.append("rect").attr("x", 1446.3).attr("y", 819.3).attr("width", 22.5).attr("height", 7.5).attr("fill", BLUE).attr("fill-opacity", 0.65).attr("stroke", "#000").attr("stroke-opacity", 0.65);
svg.append("rect").attr("x", 1446.3).attr("y", 834.3).attr("width", 22.5).attr("height", 7.5).attr("fill", ORANGE).attr("fill-opacity", 0.65).attr("stroke", "#000").attr("stroke-opacity", 0.65);
legendText(1477.5, 824, "U (zonal)");
legendText(1477.5, 839, "V (meridional)");
</script>
</body>
</html>
